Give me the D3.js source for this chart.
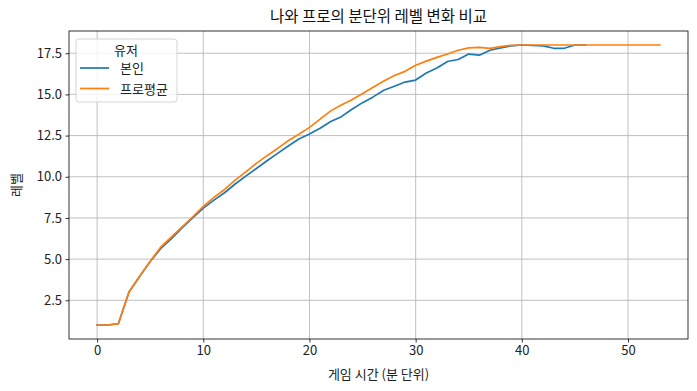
<!DOCTYPE html>
<html>
<head>
<meta charset="utf-8">
<script src="https://cdn.jsdelivr.net/npm/d3@7"></script>
<style>
  body { margin: 0; background: #fff; }
  svg { font-family: "Noto Sans CJK KR", "Noto Sans", sans-serif; }
</style>
</head>
<body>
<svg class="chart"></svg>
<script>
// minutes and level per minute
const myMinutes = d3.range(0, 47);
const myLevels = [1.0, 1.0, 1.08, 3.0, 3.95, 4.85, 5.65, 6.25, 6.9, 7.5,
  8.1, 8.58, 9.03, 9.56, 10.04, 10.5, 10.97, 11.42, 11.87, 12.29,
  12.6, 12.94, 13.35, 13.65, 14.1, 14.5, 14.85, 15.25, 15.5, 15.75,
  15.87, 16.3, 16.6, 17.0, 17.12, 17.45, 17.38, 17.68, 17.83, 17.95,
  18.0, 17.97, 17.95, 17.8, 17.8, 18.0, 18.0];

const proMinutes = d3.range(0, 54);
const proLevels = [1.0, 1.0, 1.08, 3.0, 3.96, 4.87, 5.74, 6.35, 6.96, 7.57,
  8.2, 8.75, 9.23, 9.8, 10.3, 10.81, 11.28, 11.72, 12.19, 12.58,
  13.0, 13.5, 14.0, 14.36, 14.67, 15.05, 15.44, 15.82, 16.15, 16.4,
  16.77, 17.02, 17.25, 17.45, 17.68, 17.83, 17.86, 17.8, 17.9, 17.98,
  18.0, 18.0, 18.0, 18.0, 18.0, 18.0, 18.0, 18.0, 18.0, 18.0,
  18.0, 18.0, 18.0, 18.0];

const seriesNames = ['본인', '프로평균'];
const seriesColors = ['#1f77b4', '#ff7f0e'];
const xTicks = [0, 10, 20, 30, 40, 50];
const yTicks = [2.5, 5.0, 7.5, 10.0, 12.5, 15.0, 17.5];

const titleText = '나와 프로의 분단위 레벨 변화 비교';
const xLabel = '게임 시간 (분 단위)';
const yLabel = '레벨';
const legendTitle = '유저';

const W = 697, H = 391;
const margin = {top: 31, right: 9, bottom: 52, left: 69};
const width = W - margin.left - margin.right;
const height = H - margin.top - margin.bottom;

const series = [
  myMinutes.map((m, i) => ({t: m, v: myLevels[i]})),
  proMinutes.map((m, i) => ({t: m, v: proLevels[i]}))
];

// matplotlib-style 5% padding
const xMin = 0, xMax = d3.max(proMinutes);
const xPad = (xMax - xMin) * 0.05;
const yMin = 1, yMax = 18;
const yPad = (yMax - yMin) * 0.05;

const x = d3.scaleLinear().domain([xMin - xPad, xMax + xPad]).range([0, width]);
const y = d3.scaleLinear().domain([yMin - yPad, yMax + yPad]).range([height, 0]);

const svg = d3.select('.chart').attr('width', W).attr('height', H);
const g = svg.append('g').attr('transform', 'translate(' + margin.left + ',' + margin.top + ')');

// grid
g.append('g')
  .selectAll('line')
  .data(xTicks)
  .join('line')
  .attr('x1', d => x(d)).attr('x2', d => x(d))
  .attr('y1', 0).attr('y2', height)
  .attr('stroke', '#b0b0b0').attr('stroke-width', 0.8);

g.append('g')
  .selectAll('line')
  .data(yTicks)
  .join('line')
  .attr('y1', d => y(d)).attr('y2', d => y(d))
  .attr('x1', 0).attr('x2', width)
  .attr('stroke', '#b0b0b0').attr('stroke-width', 0.8);

// axes
const xAxis = d3.axisBottom(x).tickValues(xTicks).tickFormat(d3.format('d')).tickSize(3.5).tickPadding(3.5);
const yAxis = d3.axisLeft(y).tickValues(yTicks).tickFormat(d3.format('.1f')).tickSize(3.5).tickPadding(3.5);

const gx = g.append('g').attr('transform', 'translate(0,' + height + ')').call(xAxis);
const gy = g.append('g').call(yAxis);
[gx, gy].forEach(a => {
  a.select('.domain').remove();
  a.selectAll('.tick line').attr('stroke', '#000').attr('stroke-width', 0.8);
  a.selectAll('.tick text').attr('fill', '#222').style('font-size', '13px')
    .style('font-family', '"Noto Sans CJK KR", sans-serif');
});

// lines
const line = d3.line().x(d => x(d.t)).y(d => y(d.v));
g.selectAll('.series')
  .data(series)
  .join('path')
  .attr('class', 'series')
  .attr('fill', 'none')
  .attr('stroke', (d, i) => seriesColors[i])
  .attr('stroke-width', 1.7)
  .attr('stroke-linejoin', 'round')
  .attr('stroke-linecap', 'square')
  .attr('d', line);

// frame
g.append('rect')
  .attr('width', width).attr('height', height)
  .attr('fill', 'none').attr('stroke', '#000').attr('stroke-width', 0.8);

// title and labels
svg.append('text')
  .attr('x', margin.left + width / 2).attr('y', 22)
  .attr('text-anchor', 'middle')
  .attr('fill', '#111')
  .style('font-size', '15.5px')
  .text(titleText);

svg.append('text')
  .attr('x', margin.left + width / 2).attr('y', 379)
  .attr('text-anchor', 'middle')
  .attr('fill', '#222')
  .style('font-size', '13px')
  .text(xLabel);

svg.append('text')
  .attr('transform', 'translate(21,' + (margin.top + height / 2) + ') rotate(-90)')
  .attr('text-anchor', 'middle')
  .attr('fill', '#222')
  .style('font-size', '13px')
  .text(yLabel);

// legend
const lg = svg.append('g').attr('transform', 'translate(76,39)');
lg.append('rect')
  .attr('width', 101).attr('height', 63)
  .attr('rx', 3)
  .attr('fill', '#fff').attr('fill-opacity', 0.8)
  .attr('stroke', '#cccccc').attr('stroke-width', 0.8);
lg.append('text')
  .attr('x', 50).attr('y', 16)
  .attr('text-anchor', 'middle')
  .attr('fill', '#222')
  .style('font-size', '13px')
  .text(legendTitle);
const items = lg.selectAll('.item')
  .data(seriesNames)
  .join('g')
  .attr('class', 'item')
  .attr('transform', (d, i) => 'translate(0,' + (29 + i * 20.5) + ')');
items.append('line')
  .attr('x1', 4).attr('x2', 33)
  .attr('stroke', (d, i) => seriesColors[i])
  .attr('stroke-width', 1.7);
items.append('text')
  .attr('x', 44).attr('y', 5)
  .attr('fill', '#222')
  .style('font-size', '13px')
  .text(d => d);
</script>
</body>
</html>
